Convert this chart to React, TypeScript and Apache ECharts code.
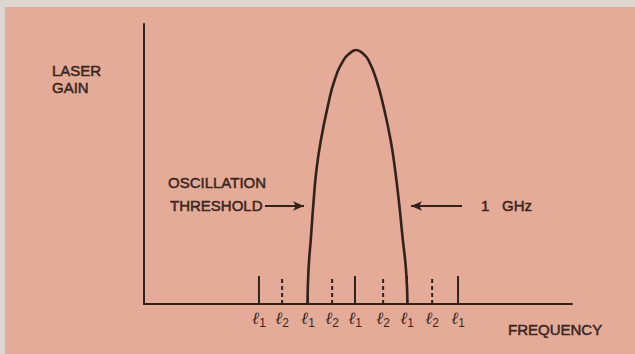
import React, { useEffect, useRef } from "react";
import * as echarts from "echarts";

// Gain curve (frequency units, gain units above threshold)
const curveX = [65.7, 66.1, 67.1, 68.1, 69.3, 71.1, 73.8, 76.6, 80.2, 82.8, 85.2, 87.8, 90.2, 93.4, 96.3, 99.1, 100.9, 102.5, 103.9, 105.3, 105.9];
const curveY = [0, 12.1, 23.9, 36.1, 47.9, 58.6, 70.4, 80.0, 87.1, 89.6, 90.7, 89.6, 87.1, 80.0, 70.4, 58.6, 47.9, 36.1, 23.9, 12.1, 0];

// Cavity modes
const l1Positions = [46.2, 65.9, 84.8, 105.7, 126.2];
const l2Positions = [55.5, 75.6, 96.1, 115.8];
const modeHeight = 10;

// Annotation arrows
const thresholdArrowX = [48.6, 64.3];
const ghzArrowX = [127.8, 107.3];
const arrowLevel = 35;

const INK = "#33211b";
const TEXT = "#3a2520";
const BG = "#e4ab98";
const FONT = "'Liberation Sans', Arial, sans-serif";

export default function App() {
  const ref = useRef<HTMLDivElement>(null);
  useEffect(() => {
    if (!ref.current) return;
    const chart = echarts.init(ref.current, null, { renderer: "svg" });
    const allModes = [
      ...l1Positions.map((x) => ({ x, sub: "1" })),
      ...l2Positions.map((x) => ({ x, sub: "2" })),
    ].sort((a, b) => a.x - b.x);

    const modeSeries: any[] = [];
    l1Positions.forEach((x) =>
      modeSeries.push({
        type: "line",
        data: [[x, 0], [x, modeHeight]],
        showSymbol: false,
        lineStyle: { color: INK, width: 2 },
        z: 3,
      })
    );
    l2Positions.forEach((x) =>
      modeSeries.push({
        type: "line",
        data: [[x, 0], [x, modeHeight]],
        showSymbol: false,
        lineStyle: { color: INK, width: 2, type: [4, 3] },
        z: 3,
      })
    );

    const arrowStyle = { color: INK, width: 2, type: "solid" };

    chart.setOption({
      animation: false,
      backgroundColor: BG,
      grid: { left: 144, right: 63, top: 24, bottom: 50 },
      xAxis: {
        type: "value",
        min: 0,
        max: 172,
        axisLine: { show: true, onZero: false, lineStyle: { color: INK, width: 2 } },
        axisTick: { show: false },
        splitLine: { show: false },
        axisLabel: {
          show: true,
          customValues: allModes.map((m) => m.x),
          margin: 4,
          formatter: (v: number) => {
            let best = allModes[0];
            allModes.forEach((m) => {
              if (Math.abs(m.x - v) < Math.abs(best.x - v)) best = m;
            });
            return "{l|ℓ}{s|" + best.sub + "}";
          },
          rich: {
            l: { fontFamily: "'DejaVu Serif', serif", fontStyle: "italic", fontSize: 17, color: TEXT, lineHeight: 20 },
            s: { fontFamily: FONT, fontSize: 12, color: TEXT, padding: [10, 0, 0, 0], lineHeight: 20 },
          },
        },
      },
      yAxis: {
        type: "value",
        min: 0,
        max: 100,
        axisLine: { show: true, lineStyle: { color: INK, width: 2 } },
        axisTick: { show: false },
        axisLabel: { show: false },
        splitLine: { show: false },
      },
      series: [
        {
          type: "line",
          data: curveX.map((x, i) => [x, curveY[i]]),
          smooth: 0.5,
          showSymbol: false,
          lineStyle: { color: INK, width: 2.6 },
          z: 4,
        },
        ...modeSeries,
        {
          type: "line",
          data: [],
          markLine: {
            silent: true,
            symbol: ["none", "arrow"],
            symbolSize: [7, 11],
            label: { show: false },
            lineStyle: arrowStyle,
            data: [
              [
                { coord: [thresholdArrowX[0], arrowLevel] },
                { coord: [thresholdArrowX[1], arrowLevel] },
              ],
              [
                { coord: [ghzArrowX[0], arrowLevel] },
                { coord: [ghzArrowX[1], arrowLevel] },
              ],
            ],
          },
        },
      ],
      graphic: [
        { type: "rect", shape: { x: 0, y: 0, width: 635, height: 7 }, style: { fill: "#ddd6d2" }, silent: true },
        { type: "rect", shape: { x: 0, y: 0, width: 5, height: 354 }, style: { fill: "#ddd6d2" }, silent: true },
        ...[
          { t: "LASER", x: 52, y: 70 },
          { t: "GAIN", x: 52, y: 87 },
          { t: "OSCILLATION", x: 168, y: 182.5 },
          { t: "THRESHOLD", x: 170, y: 205.5 },
          { t: "FREQUENCY", x: 508, y: 329 },
        ].map((o) => ({
          type: "text",
          x: o.x,
          y: o.y,
          style: {
            text: o.t,
            fill: TEXT,
            font: `15px ${FONT}`,
            lineHeight: 15,
            textVerticalAlign: "middle",
            textAlign: "left",
            stroke: TEXT,
            lineWidth: 0.5,
          },
        })),
        {
          type: "text",
          x: 481,
          y: 205.5,
          style: {
            text: "{a|1 }{b|GHz}",
            rich: {
              a: { width: 21, font: `15px ${FONT}`, fill: TEXT },
              b: { font: `15px ${FONT}`, fill: TEXT },
            },
            fill: TEXT,
            font: `15px ${FONT}`,
            textVerticalAlign: "middle",
            stroke: TEXT,
            lineWidth: 0.5,
          },
        },
      ],
    });
    return () => chart.dispose();
  }, []);
  return (
    <div
      ref={ref}
      style={{ position: "absolute", left: 0, top: 0, width: 635, height: 354 }}
    />
  );
}
